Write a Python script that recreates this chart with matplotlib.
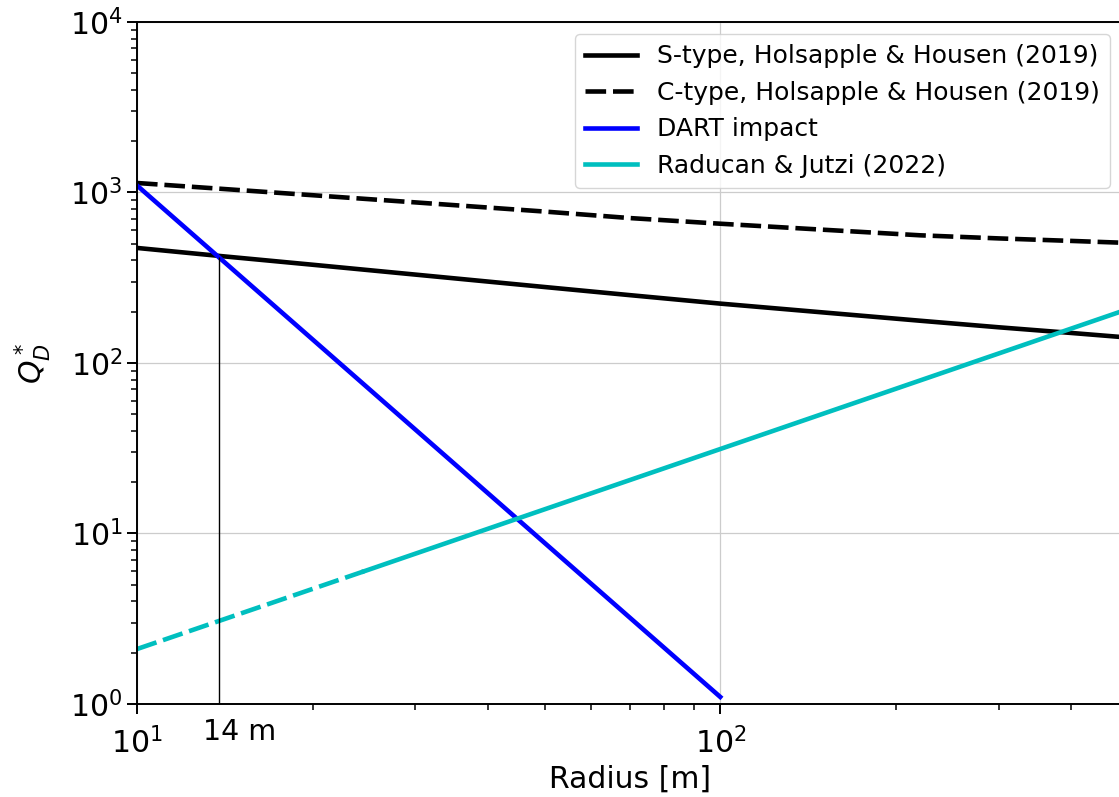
import numpy as np
import matplotlib
matplotlib.use("Agg")
import matplotlib.pyplot as plt
import matplotlib.transforms as mtransforms

# (radius in m, Q*_D)
s_type_r = [10, 14, 20, 30, 50, 70, 100, 150, 220, 300, 400, 500]
s_type_q = [473, 423, 377, 330, 279, 250, 223, 198, 177, 162, 150, 141]

c_type_r = [10, 14, 20, 30, 50, 70, 100, 150, 220, 300, 400, 500]
c_type_q = [1137, 1050, 964, 875, 773, 708, 656, 605, 561, 538, 520, 506]

dart_r = [10, 100]
dart_q = [1100, 1.1]

raducan_r_extrap = [10, 24.5]
raducan_q_extrap = [2.1, 6.0]
raducan_r = [24.5, 500]
raducan_q = [6.0, 207]

# where DART meets the S-type curve
mark_r = 13.8
mark_q = 420

plt.rcParams['axes.linewidth'] = 1.4

fig = plt.figure(figsize=(11.19, 7.97), dpi=100)
ax = fig.add_axes([0.1224, 0.1167, 0.881, 0.8557])

dash = (4.5, 1.5)
ax.plot(s_type_r, s_type_q, 'k-', lw=3.3, label='S-type, Holsapple & Housen (2019)')
ax.plot(c_type_r, c_type_q, 'k--', lw=3.3, dashes=dash,
        label='C-type, Holsapple & Housen (2019)')
ax.plot(dart_r, dart_q, 'b-', lw=3.3, label='DART impact')
ax.plot(raducan_r, raducan_q, 'c-', lw=3.3, label='Raducan & Jutzi (2022)')
ax.plot(raducan_r_extrap, raducan_q_extrap, 'c--', lw=3.3, dashes=dash)

ax.vlines(mark_r, 1, mark_q, color='k', lw=1)

ax.set_xscale('log')
ax.set_yscale('log')
ax.set_xlim(10, 490)
ax.set_ylim(1, 1e4)

ax.grid(True, which='major', color='#cccccc', lw=0.9)
ax.set_axisbelow(True)

ax.tick_params(which='major', length=7, width=1.4, labelsize=21.5)
ax.tick_params(axis='x', which='major', pad=9.5)
ax.tick_params(which='minor', length=4.3, width=1.1)

# label for the 14 m marker, below the axis
trans = mtransforms.blended_transform_factory(ax.transData, ax.transAxes)
ax.text(13, -0.02, '14 m', transform=trans, ha='left', va='top', fontsize=20.5)

ax.set_xlabel('Radius [m]', fontsize=21.5, labelpad=4)
ax.set_ylabel('$Q_D^*$', fontsize=21.5, labelpad=12)

ax.legend(loc='upper right', fontsize=18, handlelength=2.1)

fig.savefig('out.png', dpi=100)
